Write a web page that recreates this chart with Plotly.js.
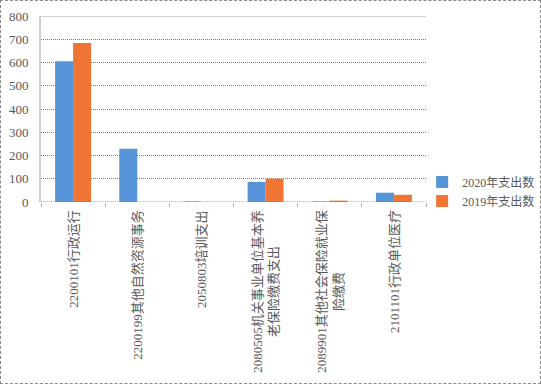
<!DOCTYPE html>
<html><head><meta charset="utf-8">
<script src="https://cdn.plot.ly/plotly-3.0.1.min.js"></script>
<style>html,body{margin:0;padding:0;background:#fff}
#c{width:539px;height:382px;border:1px dashed #8a8a8a;}</style>
</head><body><div id="c"></div>
<script>
const categories = ["2200101行政运行","2200199其他自然资源事务","2050803培训支出","2080505机关事业单位基本养<br>老保险缴费支出","2089901其他社会保险就业保<br>险缴费","2101101行政单位医疗"];
const series2020 = [605, 229, 2, 86, 2, 40];
const series2019 = [684, 0, 0, 100, 6, 31];
const seriesNames = ["2020年支出数","2019年支出数"];
const yTicks = [0,100,200,300,400,500,600,700,800];
const fontFam = '"Liberation Serif","Noto Sans CJK SC",serif';
const data = [
 {type:'bar', x:categories, y:series2020, name:seriesNames[0], marker:{color:'#5693d8'}},
 {type:'bar', x:categories, y:series2019, name:seriesNames[1], marker:{color:'#f07535'}}
];
const annotations = categories.map(c => ({
 xref:'x', yref:'paper', x:c, y:-0.03, xanchor:'center', yanchor:'top',
 text:c, textangle:-90, showarrow:false, align:'center',
 font:{family:fontFam, size:13, color:'#595959'}
}));
const layout = {
 width:539, height:382,
 margin:{l:40, r:114, t:15, b:181, pad:0, autoexpand:false},
 paper_bgcolor:'#fff', plot_bgcolor:'#fff',
 font:{family:fontFam, size:13, color:'#595959'},
 barmode:'group', bargap:0.44, bargroupgap:0,
 showlegend:true,
 legend:{x:0.99, y:0.186, xanchor:'left', yanchor:'top', font:{family:fontFam, size:12, color:'#595959'}, itemwidth:30, tracegroupgap:0, bgcolor:'rgba(0,0,0,0)'},
 xaxis:{type:'category', tickson:'boundaries', ticks:'outside', ticklen:4, tickcolor:'#aaa', showline:false, showgrid:false, showticklabels:false, fixedrange:true},
 yaxis:{range:[0,800], tickvals:yTicks, showgrid:true, gridcolor:'#7a7a7a', griddash:'1px,1px', gridwidth:1, zeroline:false, showline:true, linecolor:'#cfcfcf', linewidth:2, ticks:'', tickfont:{family:fontFam, size:13, color:'#595959'}, ticklabelstandoff:8, fixedrange:true},
 shapes:[
  {type:'line', xref:'paper', yref:'y', x0:0, x1:1, y0:800, y1:800, line:{color:'#cfcfcf', width:2}},
  {type:'line', xref:'paper', yref:'y', x0:0, x1:1, y0:0, y1:0, line:{color:'#7a7a7a', width:1, dash:'1px,1px'}}
 ],
 annotations: annotations
};
Plotly.newPlot('c', data, layout, {displayModeBar:false, staticPlot:true});
</script></body></html>
